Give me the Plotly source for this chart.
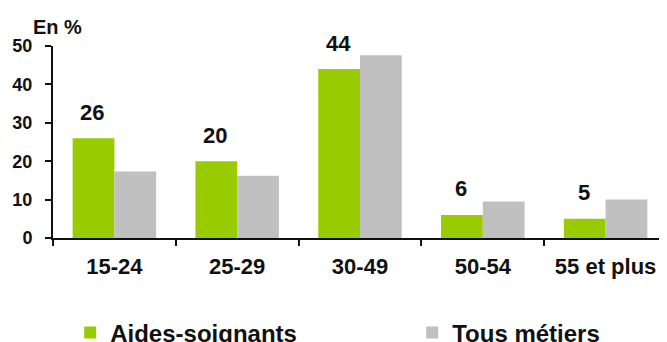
import plotly.graph_objects as go

categories = ["15-24", "25-29", "30-49", "50-54", "55 et plus"]
aides = [26, 20, 44, 6, 5]
tous = [17.3, 16.2, 47.6, 9.5, 10.0]
aides_labels = ["26", "20", "44", "6", "5"]

FONT = "Liberation Sans, Arial, sans-serif"

# page body has an 8px margin: work in figure coordinates
W, H = 659, 334
L, T, B = 45, 38, 104
PW, PH = W - L, H - T - B

fig = go.Figure()
fig.add_trace(go.Bar(x=categories, y=aides, name="<b>Aides-soignants</b>",
                     legend="legend",
                     marker=dict(color="#99CC00", line=dict(width=0))))
fig.add_trace(go.Bar(x=categories, y=tous, name="<b>Tous métiers</b>",
                     legend="legend2",
                     marker=dict(color="#C0C0C0", line=dict(width=0))))

for c, v, t in zip(categories, aides, aides_labels):
    fig.add_annotation(x=c, y=v, text="<b>%s</b>" % t, showarrow=False,
                       xref="x", yref="y", xshift=-22, yshift=26,
                       font=dict(family=FONT, size=22, color="#111"))

fig.add_annotation(x=(49 - L) / PW, y=(T + PH - 19) / PH, xref="paper", yref="paper",
                   text="<b>En %</b>", showarrow=False,
                   xanchor="center", yanchor="middle",
                   font=dict(family=FONT, size=20, color="#111"))

leg_common = dict(orientation="h", xanchor="left",
                  yref="container", y=1 - 325 / H, yanchor="middle",
                  font=dict(family=FONT, size=24, color="#111"),
                  itemwidth=30, bgcolor="rgba(0,0,0,0)")

fig.update_layout(
    width=W, height=H,
    margin=dict(l=L, r=0, t=T, b=B, autoexpand=False),
    paper_bgcolor="white", plot_bgcolor="white",
    barmode="group", bargap=0.32, bargroupgap=0,
    showlegend=True,
    legend=dict(x=0.028, **leg_common),
    legend2=dict(x=0.585, **leg_common),
    font=dict(family=FONT, color="#111"),
)
fig.update_xaxes(showline=True, linecolor="#111", linewidth=2, automargin=False,
                 ticks="outside", ticklen=6, tickcolor="#111", tickwidth=2,
                 tickson="boundaries", ticklabelstandoff=8,
                 tickfont=dict(family=FONT, size=22, color="#111"),
                 tickprefix="<b>", ticksuffix="</b>", showgrid=False)
fig.update_yaxes(range=[0, 50], dtick=10, showline=True, linecolor="#111", linewidth=2,
                 automargin=False, ticklabelstandoff=9,
                 ticks="outside", ticklen=6, tickcolor="#111", tickwidth=2,
                 tickfont=dict(family=FONT, size=18, color="#111"),
                 tickprefix="<b>", ticksuffix="</b>", showgrid=False, zeroline=False)

fig.write_html("out.html")
